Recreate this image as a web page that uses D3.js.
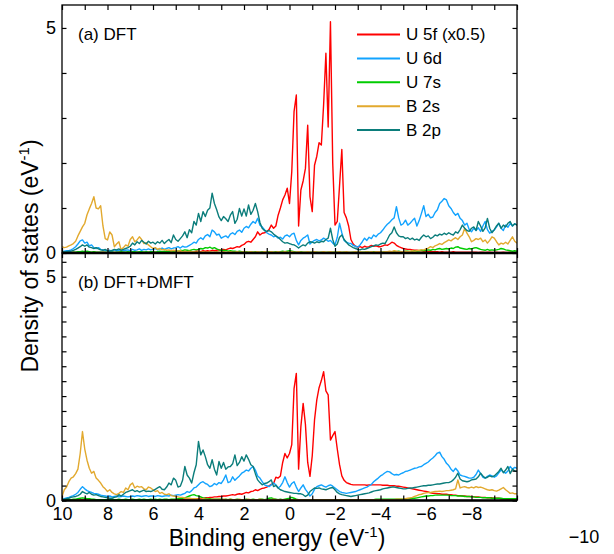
<!DOCTYPE html>
<html>
<head>
<meta charset="utf-8">
<title>UB DOS | D3</title>
<script src="https://d3js.org/d3.v7.min.js"></script>
<style>
body {
 margin: 0;
 background: white;
 font-family: "Liberation Sans", Arial, sans-serif;
}
.tick text {
 font-family: "Liberation Sans", Arial, sans-serif;
 font-size: 18px;
 fill: #000;
}
</style>
</head>
<body>
<script>
// binding energy grid, 10 eV down to -10 eV in 0.1 eV steps
var energy = d3.range(100, -101, -1).map(function(v) { return v / 10; });

var seriesNames = ["U 5f (x0.5)", "U 6d", "U 7s", "B 2s", "B 2p"];
var seriesColors = ["#ff0000", "#12a3ff", "#00cc00", "#e2a92e", "#0b7d7b"];

var xTickValues = [10, 9, 8, 7, 6, 5, 4, 3, 2, 1, 0, -1, -2, -3, -4, -5, -6, -7, -8, -9, -10];
var xTickLabels = [10, 8, 6, 4, 2, 0, -2, -4, -6, -8];
var yTicksTop = [0, 1, 2, 3, 4, 5];
var yTicksBottom = [0, 1/3, 2/3, 1, 4/3, 5/3, 2, 7/3, 8/3, 3, 10/3, 11/3, 4, 13/3, 14/3, 5, 16/3];
var yTickLabels = [0, 5];

// (a) DFT
var dftU5f = [
 0.01,0.01,0.02,0.01,0.01,0.02,0.01,0.01,0.02,0.01,
 0.01,0.02,0.01,0.01,0.02,0.01,0.01,0.01,0.02,0.01,
 0.01,0.01,0.02,0.01,0.01,0.02,0.01,0.02,0.01,0.01,
 0.02,0.01,0.01,0.02,0.01,0.02,0.02,0.01,0.02,0.02,
 0.02,0.02,0.01,0.02,0.02,0.03,0.02,0.02,0.03,0.02,
 0.03,0.02,0.03,0.03,0.02,0.03,0.04,0.03,0.03,0.04,
 0.04,0.03,0.05,0.04,0.05,0.04,0.06,0.05,0.06,0.07,
 0.06,0.08,0.07,0.09,0.11,0.10,0.12,0.14,0.13,0.17,
 0.19,0.24,0.26,0.24,0.30,0.36,0.47,0.40,0.44,0.45,
 0.47,0.52,0.62,0.55,0.60,0.84,1.00,1.18,1.29,1.44,
 1.10,1.81,3.14,3.51,0.60,1.40,1.60,1.88,2.84,1.25,
 0.92,1.95,2.15,2.45,2.40,3.30,4.44,2.80,5.14,2.00,
 0.62,0.70,1.50,2.30,0.90,0.78,0.60,0.30,0.20,0.15,
 0.13,0.14,0.12,0.15,0.13,0.14,0.17,0.15,0.16,0.14,
 0.14,0.16,0.18,0.17,0.20,0.24,0.22,0.17,0.14,0.12,
 0.10,0.09,0.08,0.08,0.07,0.06,0.06,0.05,0.05,0.04,
 0.04,0.03,0.04,0.03,0.03,0.03,0.02,0.03,0.02,0.02,
 0.02,0.02,0.03,0.02,0.02,0.02,0.02,0.02,0.02,0.02,
 0.02,0.02,0.02,0.01,0.02,0.02,0.01,0.02,0.02,0.01,
 0.01,0.02,0.01,0.01,0.02,0.01,0.01,0.02,0.01,0.01,
 0.01];
var dftU6d = [
 0.03,0.04,0.05,0.05,0.07,0.10,0.14,0.20,0.27,0.29,
 0.22,0.24,0.16,0.18,0.12,0.10,0.12,0.08,0.07,0.06,
 0.05,0.06,0.04,0.07,0.05,0.06,0.08,0.05,0.06,0.07,
 0.05,0.08,0.06,0.07,0.09,0.06,0.08,0.07,0.09,0.07,
 0.08,0.10,0.07,0.09,0.11,0.08,0.10,0.12,0.09,0.11,
 0.12,0.14,0.11,0.15,0.13,0.14,0.17,0.20,0.24,0.22,
 0.30,0.34,0.30,0.38,0.41,0.36,0.51,0.47,0.40,0.42,
 0.33,0.36,0.38,0.34,0.42,0.45,0.41,0.48,0.51,0.46,
 0.55,0.59,0.56,0.64,0.70,0.66,0.77,0.62,0.58,0.52,
 0.45,0.42,0.40,0.36,0.38,0.33,0.35,0.31,0.38,0.40,
 0.36,0.42,0.44,0.28,0.18,0.28,0.33,0.36,0.40,0.20,
 0.25,0.28,0.30,0.27,0.29,0.33,0.30,0.26,0.28,0.22,
 0.18,0.35,0.66,0.45,0.28,0.24,0.22,0.21,0.17,0.15,
 0.13,0.18,0.25,0.33,0.28,0.35,0.32,0.40,0.36,0.42,
 0.45,0.51,0.58,0.64,0.68,0.74,0.78,1.03,0.78,0.62,
 0.65,0.73,0.62,0.66,0.72,0.77,0.60,0.72,0.88,1.05,
 0.81,0.86,0.78,0.80,0.90,0.96,1.10,1.15,1.21,1.18,
 1.05,0.99,0.90,0.84,0.88,0.77,0.72,0.62,0.66,0.52,
 0.47,0.55,0.50,0.56,0.48,0.60,0.70,0.52,0.44,0.48,
 0.51,0.58,0.66,0.55,0.50,0.62,0.57,0.66,0.60,0.65,
 0.62];
var dftU7s = [
 0.01,0.01,0.01,0.02,0.01,0.02,0.02,0.03,0.03,0.04,
 0.03,0.04,0.03,0.02,0.03,0.02,0.02,0.02,0.01,0.02,
 0.01,0.02,0.02,0.01,0.02,0.02,0.03,0.02,0.02,0.03,
 0.02,0.03,0.03,0.02,0.03,0.03,0.02,0.03,0.02,0.03,
 0.03,0.02,0.03,0.04,0.03,0.04,0.03,0.04,0.05,0.04,
 0.05,0.04,0.06,0.05,0.07,0.06,0.05,0.07,0.08,0.07,
 0.08,0.10,0.09,0.12,0.11,0.13,0.10,0.12,0.09,0.07,
 0.06,0.05,0.06,0.04,0.05,0.04,0.04,0.03,0.04,0.03,
 0.03,0.03,0.02,0.03,0.02,0.03,0.02,0.02,0.03,0.02,
 0.02,0.03,0.02,0.02,0.03,0.02,0.03,0.04,0.03,0.04,
 0.05,0.04,0.03,0.02,0.02,0.03,0.02,0.02,0.02,0.02,
 0.02,0.02,0.02,0.01,0.02,0.02,0.01,0.02,0.02,0.02,
 0.02,0.02,0.02,0.01,0.02,0.01,0.01,0.01,0.02,0.01,
 0.02,0.02,0.02,0.02,0.03,0.02,0.02,0.03,0.03,0.02,
 0.03,0.02,0.03,0.03,0.02,0.03,0.03,0.03,0.04,0.03,
 0.03,0.04,0.04,0.03,0.04,0.05,0.04,0.05,0.06,0.05,
 0.06,0.07,0.06,0.08,0.07,0.09,0.10,0.08,0.09,0.10,
 0.09,0.11,0.10,0.13,0.14,0.11,0.10,0.09,0.08,0.10,
 0.09,0.11,0.12,0.10,0.08,0.07,0.06,0.08,0.06,0.07,
 0.06,0.07,0.08,0.10,0.09,0.07,0.06,0.05,0.04,0.05,
 0.04];
var dftB2s = [
 0.14,0.12,0.13,0.16,0.18,0.21,0.26,0.38,0.48,0.58,
 0.66,0.85,0.98,1.10,1.25,1.00,0.98,1.05,0.60,0.32,
 0.29,0.47,0.40,0.14,0.20,0.25,0.07,0.12,0.18,0.15,
 0.30,0.36,0.25,0.29,0.36,0.30,0.21,0.23,0.18,0.14,
 0.10,0.12,0.08,0.10,0.07,0.08,0.06,0.07,0.05,0.06,
 0.05,0.04,0.05,0.03,0.04,0.03,0.04,0.03,0.03,0.02,
 0.03,0.02,0.03,0.02,0.02,0.03,0.02,0.02,0.03,0.02,
 0.02,0.03,0.02,0.02,0.03,0.02,0.02,0.03,0.02,0.02,
 0.03,0.02,0.02,0.03,0.02,0.02,0.03,0.02,0.02,0.03,
 0.02,0.02,0.03,0.02,0.02,0.03,0.02,0.02,0.03,0.02,
 0.02,0.03,0.02,0.02,0.03,0.02,0.02,0.02,0.03,0.02,
 0.02,0.03,0.02,0.02,0.02,0.03,0.02,0.02,0.03,0.02,
 0.02,0.02,0.03,0.02,0.02,0.03,0.02,0.02,0.02,0.03,
 0.02,0.03,0.02,0.02,0.03,0.02,0.03,0.02,0.03,0.03,
 0.03,0.02,0.03,0.03,0.04,0.03,0.05,0.04,0.03,0.03,
 0.03,0.04,0.03,0.04,0.05,0.04,0.05,0.06,0.07,0.07,
 0.09,0.11,0.14,0.12,0.16,0.18,0.21,0.19,0.23,0.26,
 0.29,0.27,0.31,0.34,0.30,0.36,0.40,0.55,0.44,0.36,
 0.25,0.28,0.32,0.30,0.33,0.25,0.29,0.22,0.28,0.36,
 0.33,0.25,0.18,0.22,0.20,0.24,0.20,0.28,0.36,0.26,
 0.22];
var dftB2p = [
 0.02,0.03,0.03,0.04,0.04,0.06,0.08,0.11,0.14,0.18,
 0.15,0.18,0.13,0.12,0.10,0.12,0.09,0.07,0.06,0.08,
 0.05,0.04,0.06,0.08,0.07,0.09,0.06,0.08,0.10,0.12,
 0.15,0.22,0.18,0.25,0.21,0.28,0.24,0.20,0.26,0.22,
 0.24,0.20,0.25,0.22,0.28,0.21,0.26,0.30,0.23,0.40,
 0.30,0.26,0.32,0.38,0.47,0.34,0.52,0.45,0.70,0.62,
 0.88,0.70,0.92,0.81,0.95,1.00,1.33,1.10,0.96,0.80,
 0.72,0.81,0.76,0.70,0.84,0.92,0.66,0.75,0.99,0.82,
 0.98,0.82,1.07,0.86,0.95,1.10,0.92,0.68,0.55,0.50,
 0.48,0.50,0.47,0.42,0.38,0.35,0.30,0.25,0.22,0.23,
 0.21,0.19,0.18,0.15,0.11,0.15,0.18,0.16,0.22,0.25,
 0.24,0.22,0.25,0.23,0.26,0.25,0.30,0.33,0.55,0.30,
 0.15,0.20,0.35,0.40,0.30,0.24,0.18,0.15,0.12,0.10,
 0.08,0.07,0.09,0.08,0.10,0.12,0.14,0.16,0.18,0.17,
 0.20,0.22,0.21,0.30,0.40,0.45,0.58,0.45,0.38,0.36,
 0.36,0.32,0.34,0.30,0.33,0.29,0.31,0.28,0.35,0.40,
 0.36,0.38,0.32,0.35,0.40,0.38,0.42,0.40,0.44,0.41,
 0.45,0.42,0.40,0.47,0.44,0.52,0.62,0.55,0.50,0.48,
 0.55,0.58,0.50,0.70,0.60,0.48,0.56,0.77,0.55,0.45,
 0.52,0.60,0.66,0.55,0.62,0.58,0.66,0.70,0.60,0.65,
 0.62];

// (b) DFT+DMFT
var dmftU5f = [
 0.01,0.01,0.01,0.01,0.01,0.01,0.01,0.01,0.01,0.01,
 0.01,0.01,0.01,0.01,0.01,0.01,0.01,0.01,0.01,0.01,
 0.01,0.01,0.01,0.01,0.01,0.01,0.01,0.01,0.02,0.01,
 0.01,0.02,0.01,0.02,0.01,0.02,0.02,0.01,0.02,0.02,
 0.02,0.02,0.01,0.02,0.02,0.02,0.02,0.02,0.02,0.02,
 0.02,0.02,0.03,0.02,0.03,0.03,0.03,0.04,0.03,0.04,
 0.04,0.05,0.05,0.06,0.06,0.07,0.07,0.08,0.08,0.09,
 0.09,0.10,0.10,0.11,0.12,0.13,0.12,0.14,0.15,0.14,
 0.16,0.18,0.17,0.20,0.21,0.24,0.22,0.25,0.27,0.28,
 0.30,0.33,0.36,0.38,0.52,0.50,0.55,0.85,1.05,0.95,
 1.05,1.25,2.50,2.84,0.70,1.65,2.17,1.70,0.85,0.54,
 1.00,1.80,2.25,2.52,2.68,2.88,2.45,2.36,1.35,1.45,
 1.54,1.15,0.80,0.55,0.45,0.40,0.38,0.36,0.35,0.35,
 0.35,0.35,0.35,0.35,0.34,0.35,0.35,0.35,0.35,0.35,
 0.35,0.34,0.34,0.34,0.33,0.33,0.33,0.32,0.32,0.31,
 0.30,0.29,0.28,0.27,0.26,0.25,0.24,0.23,0.22,0.21,
 0.20,0.19,0.17,0.16,0.16,0.15,0.15,0.14,0.14,0.14,
 0.13,0.13,0.12,0.12,0.11,0.11,0.10,0.10,0.09,0.09,
 0.09,0.08,0.08,0.08,0.07,0.07,0.07,0.06,0.06,0.06,
 0.05,0.05,0.05,0.04,0.04,0.04,0.03,0.03,0.03,0.03,
 0.03];
var dmftU6d = [
 0.03,0.04,0.06,0.07,0.09,0.11,0.14,0.18,0.25,0.31,
 0.26,0.22,0.20,0.18,0.16,0.15,0.14,0.12,0.11,0.10,
 0.09,0.10,0.08,0.09,0.10,0.08,0.09,0.10,0.09,0.08,
 0.09,0.10,0.09,0.11,0.10,0.09,0.10,0.11,0.09,0.10,
 0.10,0.09,0.11,0.10,0.09,0.10,0.11,0.10,0.12,0.11,
 0.12,0.13,0.12,0.14,0.16,0.20,0.18,0.22,0.28,0.30,
 0.35,0.40,0.42,0.38,0.36,0.31,0.33,0.38,0.35,0.40,
 0.38,0.46,0.57,0.40,0.42,0.53,0.45,0.50,0.55,0.61,
 0.64,0.68,0.66,0.72,0.76,0.68,0.55,0.50,0.42,0.35,
 0.33,0.31,0.35,0.39,0.35,0.28,0.32,0.40,0.53,0.40,
 0.30,0.38,0.42,0.30,0.20,0.28,0.35,0.25,0.18,0.10,
 0.15,0.25,0.31,0.33,0.35,0.32,0.30,0.33,0.35,0.32,
 0.28,0.24,0.20,0.18,0.17,0.16,0.17,0.18,0.19,0.20,
 0.22,0.24,0.26,0.28,0.30,0.33,0.36,0.42,0.46,0.50,
 0.55,0.58,0.62,0.65,0.64,0.60,0.57,0.58,0.57,0.60,
 0.62,0.65,0.66,0.68,0.70,0.72,0.73,0.75,0.76,0.80,
 0.83,0.86,0.91,0.95,1.00,1.06,1.08,0.98,0.92,0.83,
 0.78,0.70,0.65,0.72,0.66,0.57,0.55,0.54,0.52,0.50,
 0.50,0.52,0.58,0.68,0.60,0.52,0.50,0.54,0.57,0.55,
 0.52,0.55,0.62,0.68,0.64,0.61,0.66,0.76,0.70,0.74,
 0.72];
var dmftU7s = [
 0.01,0.01,0.02,0.02,0.02,0.03,0.03,0.04,0.05,0.06,
 0.05,0.04,0.04,0.03,0.03,0.02,0.02,0.02,0.02,0.02,
 0.02,0.02,0.03,0.02,0.02,0.03,0.02,0.02,0.03,0.02,
 0.02,0.03,0.02,0.02,0.03,0.02,0.03,0.02,0.02,0.03,
 0.02,0.03,0.02,0.03,0.02,0.03,0.03,0.02,0.03,0.03,
 0.03,0.04,0.04,0.05,0.06,0.08,0.10,0.12,0.13,0.11,
 0.10,0.08,0.06,0.05,0.04,0.04,0.03,0.03,0.03,0.03,
 0.03,0.02,0.03,0.02,0.03,0.02,0.02,0.03,0.02,0.02,
 0.02,0.03,0.02,0.02,0.03,0.02,0.02,0.03,0.03,0.02,
 0.03,0.05,0.06,0.04,0.03,0.02,0.03,0.02,0.03,0.04,
 0.05,0.07,0.05,0.03,0.02,0.02,0.02,0.02,0.02,0.02,
 0.02,0.02,0.02,0.02,0.02,0.02,0.02,0.02,0.02,0.02,
 0.02,0.02,0.02,0.02,0.02,0.02,0.02,0.02,0.02,0.02,
 0.02,0.02,0.02,0.02,0.02,0.02,0.02,0.02,0.03,0.03,
 0.03,0.03,0.03,0.03,0.03,0.03,0.03,0.03,0.03,0.03,
 0.03,0.03,0.04,0.04,0.05,0.05,0.06,0.07,0.08,0.09,
 0.10,0.10,0.11,0.11,0.12,0.12,0.12,0.12,0.12,0.12,
 0.12,0.11,0.11,0.11,0.10,0.10,0.10,0.09,0.09,0.09,
 0.08,0.08,0.07,0.07,0.07,0.06,0.06,0.06,0.06,0.05,
 0.05,0.05,0.05,0.05,0.04,0.04,0.04,0.04,0.04,0.04,
 0.04];
var dmftB2s = [
 0.09,0.24,0.30,0.42,0.50,0.53,0.60,0.70,1.05,1.54,
 1.15,0.90,0.72,0.61,0.65,0.50,0.45,0.39,0.31,0.26,
 0.20,0.24,0.18,0.15,0.13,0.16,0.20,0.18,0.28,0.24,
 0.35,0.39,0.28,0.32,0.30,0.31,0.26,0.24,0.30,0.28,
 0.24,0.20,0.22,0.16,0.18,0.14,0.13,0.15,0.11,0.10,
 0.09,0.08,0.07,0.07,0.06,0.05,0.05,0.04,0.04,0.04,
 0.03,0.03,0.04,0.03,0.03,0.02,0.03,0.03,0.02,0.03,
 0.02,0.03,0.02,0.02,0.03,0.02,0.02,0.02,0.03,0.02,
 0.02,0.02,0.03,0.02,0.02,0.02,0.02,0.03,0.02,0.02,
 0.02,0.02,0.02,0.03,0.02,0.02,0.02,0.02,0.02,0.02,
 0.02,0.02,0.02,0.02,0.02,0.02,0.02,0.02,0.02,0.02,
 0.02,0.02,0.02,0.02,0.02,0.02,0.02,0.02,0.02,0.02,
 0.02,0.02,0.02,0.02,0.02,0.02,0.02,0.02,0.02,0.02,
 0.02,0.02,0.02,0.02,0.02,0.02,0.02,0.02,0.02,0.02,
 0.02,0.02,0.02,0.02,0.02,0.02,0.02,0.03,0.03,0.03,
 0.03,0.04,0.05,0.06,0.07,0.09,0.11,0.13,0.14,0.16,
 0.17,0.18,0.18,0.19,0.20,0.20,0.21,0.20,0.21,0.22,
 0.22,0.23,0.24,0.26,0.46,0.28,0.30,0.31,0.29,0.28,
 0.30,0.28,0.31,0.29,0.30,0.28,0.26,0.24,0.23,0.24,
 0.22,0.21,0.23,0.26,0.29,0.24,0.20,0.16,0.17,0.15,
 0.15];
var dmftB2p = [
 0.02,0.03,0.04,0.05,0.07,0.08,0.09,0.11,0.14,0.20,
 0.17,0.15,0.18,0.14,0.12,0.13,0.11,0.09,0.08,0.07,
 0.06,0.05,0.05,0.07,0.08,0.13,0.10,0.14,0.18,0.20,
 0.22,0.24,0.20,0.22,0.19,0.21,0.23,0.20,0.21,0.20,
 0.22,0.25,0.28,0.31,0.25,0.24,0.30,0.39,0.35,0.50,
 0.45,0.30,0.32,0.45,0.76,0.57,0.50,0.39,0.62,0.80,
 1.32,1.02,1.13,0.98,0.80,0.72,0.91,0.70,0.57,0.87,
 0.72,0.85,0.70,0.75,0.76,0.82,1.02,0.78,0.85,0.98,
 0.88,1.02,0.92,0.80,0.76,0.60,0.46,0.40,0.35,0.38,
 0.39,0.42,0.46,0.31,0.34,0.28,0.24,0.22,0.20,0.19,
 0.18,0.17,0.16,0.16,0.15,0.15,0.13,0.09,0.12,0.20,
 0.24,0.28,0.27,0.28,0.26,0.25,0.24,0.26,0.28,0.29,
 0.24,0.18,0.15,0.13,0.12,0.11,0.10,0.09,0.10,0.11,
 0.12,0.13,0.14,0.15,0.16,0.17,0.19,0.21,0.22,0.23,
 0.24,0.26,0.27,0.28,0.29,0.30,0.30,0.29,0.28,0.27,
 0.26,0.26,0.27,0.28,0.28,0.29,0.30,0.31,0.32,0.33,
 0.33,0.34,0.34,0.35,0.36,0.37,0.37,0.38,0.39,0.40,
 0.40,0.42,0.46,0.52,0.61,0.48,0.44,0.43,0.42,0.43,
 0.46,0.47,0.48,0.53,0.61,0.55,0.50,0.52,0.55,0.53,
 0.55,0.60,0.65,0.72,0.62,0.68,0.76,0.60,0.70,0.66,
 0.65];

var width = 614, height = 554;
var plotLeft = 62, plotRight = 517, plotTop = 5, plotMid = 253, plotBottom = 500.5;

var svg = d3.select("body")
 .append("svg")
 .attr("width", width)
 .attr("height", height);

var x = d3.scaleLinear().domain([10, -10]).range([plotLeft, plotRight]);
var yTop = d3.scaleLinear().domain([0, 5.51]).range([plotMid, plotTop]);
var yBot = d3.scaleLinear().domain([0, 5.53]).range([plotBottom, plotMid]);
var fmt = d3.format("d");

var panels = [
 { id: "a", label: "(a) DFT", y: yTop, y0: plotTop, y1: plotMid, ticks: yTicksTop,
   data: [dftU5f, dftU6d, dftU7s, dftB2s, dftB2p] },
 { id: "b", label: "(b) DFT+DMFT", y: yBot, y0: plotMid, y1: plotBottom, ticks: yTicksBottom,
   data: [dmftU5f, dmftU6d, dmftU7s, dmftB2s, dmftB2p] }
];

panels.forEach(function(p) {
 svg.append("clipPath").attr("id", "clip-" + p.id)
  .append("rect")
  .attr("x", plotLeft).attr("y", p.y0)
  .attr("width", plotRight - plotLeft).attr("height", p.y1 - p.y0);

 var g = svg.append("g").attr("clip-path", "url(#clip-" + p.id + ")");
 p.data.forEach(function(vals, i) {
  var line = d3.line()
   .x(function(d, j) { return x(energy[j]); })
   .y(function(d) { return p.y(d); });
  g.append("path")
   .datum(vals)
   .attr("fill", "none")
   .attr("stroke", seriesColors[i])
   .attr("stroke-width", 1.4)
   .attr("stroke-linejoin", "round")
   .attr("d", line);
 });

 // ticks on all four sides, pointing inward
 var xb = svg.append("g").attr("transform", "translate(0," + p.y1 + ")")
  .call(d3.axisBottom(x).tickValues(xTickValues).tickSize(-5).tickPadding(7)
   .tickFormat(function(d) {
    return (p.id === "b" && xTickLabels.indexOf(d) >= 0) ? fmt(d) : "";
   }));
 var xt = svg.append("g").attr("transform", "translate(0," + p.y0 + ")")
  .call(d3.axisTop(x).tickValues(xTickValues).tickSize(-5).tickFormat(""));
 var yl = svg.append("g").attr("transform", "translate(" + plotLeft + ",0)")
  .call(d3.axisLeft(p.y).tickValues(p.ticks).tickSize(-4.5).tickPadding(6)
   .tickFormat(function(d) {
    return yTickLabels.indexOf(d) >= 0 ? fmt(d) : "";
   }));
 var yr = svg.append("g").attr("transform", "translate(" + plotRight + ",0)")
  .call(d3.axisRight(p.y).tickValues(p.ticks).tickSize(-4.5).tickFormat(""));
 [xb, xt, yl, yr].forEach(function(a) {
  a.select(".domain").remove();
  a.selectAll(".tick line").attr("stroke", "#000").attr("stroke-width", 1.2);
 });

 svg.append("rect")
  .attr("x", plotLeft).attr("y", p.y0)
  .attr("width", plotRight - plotLeft).attr("height", p.y1 - p.y0)
  .attr("fill", "none").attr("stroke", "#000").attr("stroke-width", 1.3);

 svg.append("line")
  .attr("x1", plotLeft).attr("x2", plotRight)
  .attr("y1", p.y1).attr("y2", p.y1)
  .attr("stroke", "#000").attr("stroke-width", 2.4);

 svg.append("text")
  .attr("x", 78).attr("y", p.y0 + 29)
  .attr("dy", "0.35em")
  .style("font-size", "17px")
  .text(p.label);
});

// legend
var legend = svg.append("g");
seriesNames.forEach(function(name, i) {
 var ly = 34.5 + i * 23.9;
 legend.append("line")
  .attr("x1", 357).attr("x2", 400).attr("y1", ly).attr("y2", ly)
  .attr("stroke", seriesColors[i]).attr("stroke-width", 2);
 legend.append("text")
  .attr("x", 406).attr("y", ly).attr("dy", "0.35em")
  .style("font-size", "17px")
  .text(name);
});

// stray end label of the energy axis
svg.append("text")
 .attr("x", 584).attr("y", 543)
 .attr("text-anchor", "middle")
 .style("font-size", "18px")
 .text(fmt(-10));

// axis titles
var xTitle = svg.append("text")
 .attr("x", 277).attr("y", 546)
 .attr("text-anchor", "middle")
 .style("font-size", "23px");
xTitle.append("tspan").text("Binding energy (eV");
xTitle.append("tspan").attr("dy", -9).style("font-size", "15px").text("-1");
xTitle.append("tspan").attr("dy", 9).text(")");

var yTitle = svg.append("text")
 .attr("transform", "translate(38,256) rotate(-90)")
 .attr("text-anchor", "middle")
 .style("font-size", "23px");
yTitle.append("tspan").text("Density of states (eV");
yTitle.append("tspan").attr("dy", -9).style("font-size", "15px").text("-1");
yTitle.append("tspan").attr("dy", 9).text(")");
</script>
</body>
</html>
